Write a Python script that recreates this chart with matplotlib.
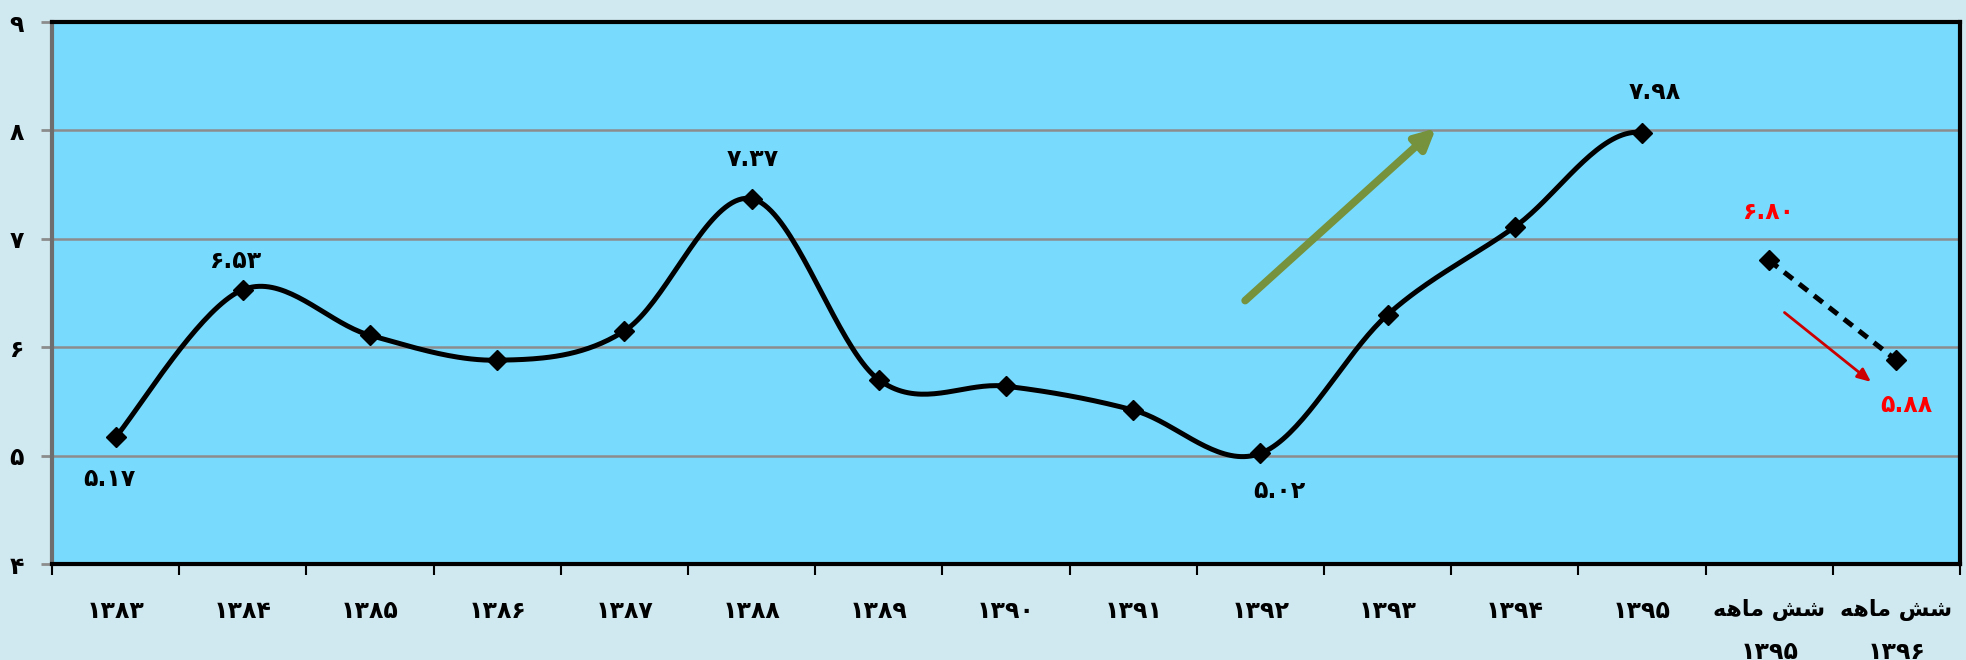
import numpy as np
import matplotlib
matplotlib.use('Agg')
import matplotlib.pyplot as plt
import matplotlib.transforms as mtransforms

# ---------------------------------------------------------
# data
years = ['1383', '1384', '1385', '1386', '1387', '1388', '1389',
         '1390', '1391', '1392', '1393', '1394', '1395']
values = [5.17, 6.53, 6.11, 5.88, 6.15, 7.37, 5.70,
          5.64, 5.42, 5.02, 6.30, 7.11, 7.98]
half_years = ['1395', '1396']
half_values = [6.80, 5.88]
labelled = {0: '5.17', 1: '6.53', 5: '7.37', 9: '5.02', 12: '7.98'}
half_labels = ['6.80', '5.88']

# ---------------------------------------------------------
FA = str.maketrans('0123456789', '۰۱۲۳۴۵۶۷۸۹')


def fa(s):
    return s.translate(FA)


# "شش ماهه" written with presentation forms, visual order (mpl does no shaping)
SHESH_MAHE = '\uFEEA\uFEEB\uFE8E\uFEE3 \uFEB6\uFEB7'


def smooth(xs, ys, nxt=None, n=40):
    # excel like smoothed line (bezier, 1/6 of neighbour difference)
    p = np.column_stack([xs, ys]).astype(float)
    last = np.array(nxt, float) if nxt is not None else p[-1]
    p = np.vstack([p[0], p, last])
    out = []
    t = np.linspace(0, 1, n)[:, None]
    for i in range(1, len(p) - 2):
        p0, p1 = p[i], p[i + 1]
        c1 = p0 + (p1 - p[i - 1]) / 6.0
        c2 = p1 - (p[i + 2] - p0) / 6.0
        seg = (1 - t) ** 3 * p0 + 3 * (1 - t) ** 2 * t * c1 + 3 * (1 - t) * t ** 2 * c2 + t ** 3 * p1
        out.append(seg)
    out = np.vstack(out)
    return out[:, 0], out[:, 1]


plt.rcParams['font.family'] = ['DejaVu Sans']
plt.rcParams['font.weight'] = 'bold'

fig = plt.figure(figsize=(19.66, 6.6), dpi=100, facecolor='#D0E8EF')
ax = fig.add_axes([52 / 1966, 1 - 564 / 660, 1908 / 1966, 542 / 660])
ax.set_facecolor('#78DBFD')

x = np.arange(len(years))
xh = np.arange(len(years), len(years) + len(half_years))

sx, sy = smooth(x, values, nxt=(xh[0], half_values[0]))
ax.plot(sx, sy, color='black', lw=3.6, solid_capstyle='round', zorder=4)
ax.plot(x, values, ls='none', marker='D', color='black', ms=10, zorder=5)
ax.plot(xh, half_values, color='black', lw=3.6, ls=(0, (2.2, 1.6)), marker='D', ms=10, zorder=5)

for i, s in labelled.items():
    off = {0: (-6, -42), 1: (-7, 29), 5: (1, 40), 9: (19, -38), 12: (13, 41)}[i]
    ax.annotate(fa(s), (x[i], values[i]), xytext=off, textcoords='offset pixels',
                ha='center', va='center', fontsize=17, fontweight='bold', color='black')
for j, s in enumerate(half_labels):
    off = [(0, 48), (10, -45)][j]
    ax.annotate(fa(s), (xh[j], half_values[j]), xytext=off, textcoords='offset pixels',
                ha='center', va='center', fontsize=17, fontweight='bold', color='#FF0000')

# trend arrows
ax.annotate('', xy=(10.38, 8.02), xytext=(8.88, 6.43),
            arrowprops=dict(arrowstyle='-|>,head_length=1.2,head_width=0.6', color='#76923C', lw=5.5,
                            shrinkA=0, shrinkB=0), zorder=3)
ax.annotate('', xy=(13.80, 5.68), xytext=(13.12, 6.32),
            arrowprops=dict(arrowstyle='-|>,head_length=0.8,head_width=0.35', color='#CC0000', lw=2,
                            shrinkA=0, shrinkB=0), zorder=3)

# axes
n = len(years) + len(half_years)
ax.set_xlim(-0.5, n - 0.5)
ax.set_ylim(4, 9)
ax.set_yticks(range(4, 10))
ax.set_yticklabels([fa(str(v)) for v in range(4, 10)], fontsize=17, fontweight='bold')
ax.yaxis.grid(True, color='#8C8C8C', lw=1.8)
ax.set_axisbelow(True)

ax.set_xticks(np.arange(-0.5, n, 1.0))
ax.set_xticklabels([])
ax.set_xticks(np.arange(n), minor=True)
xl = [fa(y) for y in years] + [SHESH_MAHE for y in half_years]
ax.set_xticklabels(xl, minor=True, fontsize=17, fontweight='bold')
for lab in ax.get_xticklabels(minor=True)[len(years):]:
    lab.set_fontsize(16)
ax.tick_params(axis='x', which='minor', length=0, pad=25)
ax.tick_params(axis='x', which='major', length=8, width=1.5, color='black', direction='out')
ax.tick_params(axis='y', length=8, width=2, color='#8C8C8C', pad=12)

# second line of the half-year labels
trans = mtransforms.blended_transform_factory(ax.transData, ax.transAxes)
for j, y in enumerate(half_years):
    ax.text(xh[j], -0.162, fa(y), transform=trans, ha='center', va='center',
            fontsize=17, fontweight='bold', clip_on=False)

for s in ['top', 'right', 'bottom']:
    ax.spines[s].set_color('black')
    ax.spines[s].set_linewidth(3)
ax.spines['left'].set_color('#6E6E6E')
ax.spines['left'].set_linewidth(3)

fig.savefig('out.png', dpi=100, facecolor=fig.get_facecolor())
